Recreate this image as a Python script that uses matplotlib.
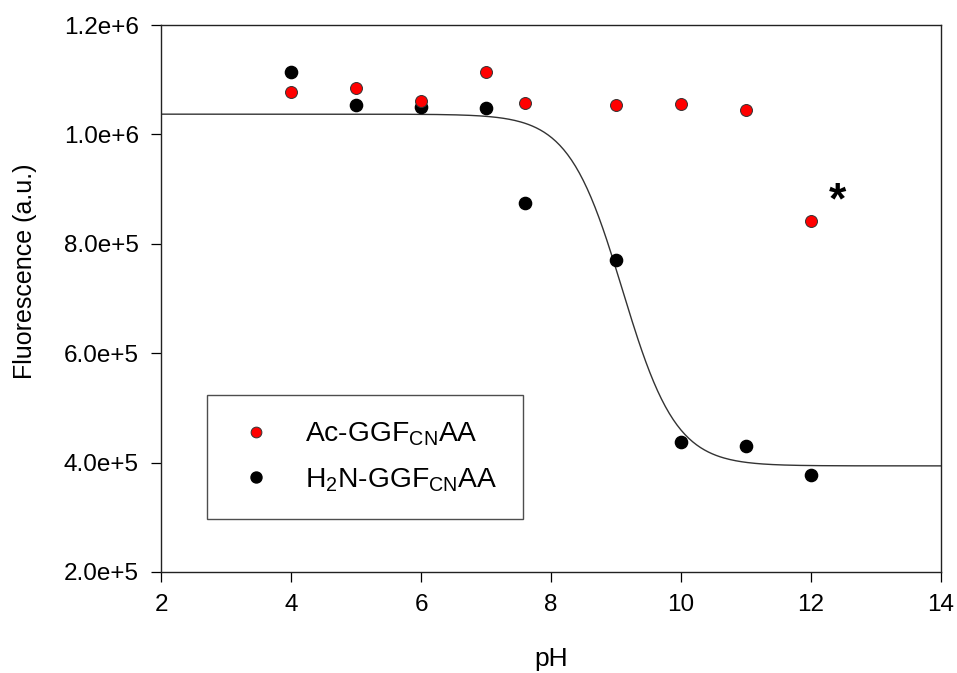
import numpy as np
import matplotlib
matplotlib.use("Agg")
import matplotlib.pyplot as plt

plt.rcParams["font.family"] = ["Liberation Sans", "DejaVu Sans"]
plt.rcParams["mathtext.fontset"] = "custom"
plt.rcParams["mathtext.rm"] = "Liberation Sans"
plt.rcParams["mathtext.it"] = "Liberation Sans"

# data
ph = [4, 5, 6, 7, 7.6, 9, 10, 11, 12]
ac_ggf = [1.077e6, 1.085e6, 1.061e6, 1.114e6, 1.057e6, 1.053e6, 1.055e6, 1.044e6, 0.841e6]
h2n_ggf = [1.114e6, 1.053e6, 1.050e6, 1.048e6, 0.874e6, 0.771e6, 0.438e6, 0.431e6, 0.378e6]

# sigmoid fit to H2N series (parameters)
FIT_TOP, FIT_BOTTOM, FIT_PKA, FIT_HILL = 1.037e6, 0.394e6, 9.1, 1.05

fig = plt.figure(figsize=(9.57, 6.73), dpi=100)
ax = fig.add_axes([161/957, 1 - 572/673, 780/957, 547/673])

xx = np.linspace(2, 14, 400)
fit = FIT_BOTTOM + (FIT_TOP - FIT_BOTTOM) / (1 + 10 ** (FIT_HILL * (xx - FIT_PKA)))
ax.plot(xx, fit, color="#333333", lw=1.0, zorder=1)

ax.plot(ph, ac_ggf, "o", ms=8.6, mfc="#ff0000", mec="#333333", mew=0.7, zorder=3,
        label=r"Ac-GGF$_{\mathrm{CN}}$AA")
ax.plot(ph, h2n_ggf, "o", ms=8.8, mfc="black", mec="black", zorder=2,
        label=r"H$_2$N-GGF$_{\mathrm{CN}}$AA")

ax.text(12.4, 0.855e6, "*", fontsize=32, fontweight="bold", ha="center",
        va="baseline", color="black")

ax.set_xlim(2, 14)
ax.set_ylim(2e5, 1.2e6)
ax.set_xticks([2, 4, 6, 8, 10, 12, 14])
ax.set_yticks([2e5, 4e5, 6e5, 8e5, 1e6, 1.2e6])
ax.set_yticklabels(["2.0e+5", "4.0e+5", "6.0e+5", "8.0e+5", "1.0e+6", "1.2e+6"])
ax.tick_params(direction="out", length=7, width=0.9, labelsize=17.5, colors="black")
ax.tick_params(axis="y", pad=9)
ax.tick_params(axis="x", pad=9)
for s in ax.spines.values():
    s.set_linewidth(1.0)
    s.set_color("#222222")
ax.set_xlabel("pH", fontsize=19, labelpad=22)
ax.set_ylabel("Fluorescence (a.u.)", fontsize=18)
ax.yaxis.set_label_coords(-0.159, 0.55)

leg = ax.legend(loc="upper left", bbox_to_anchor=(207/957, 1 - 395/673),
                bbox_transform=fig.transFigure, fontsize=20.3, frameon=True,
                fancybox=False, edgecolor="#222222", markerscale=0.9,
                borderpad=0.9, handletextpad=0.88, labelspacing=0.65,
                handlelength=1.71, borderaxespad=0)
leg.get_frame().set_linewidth(1.0)

fig.savefig("out.png", dpi=100)
